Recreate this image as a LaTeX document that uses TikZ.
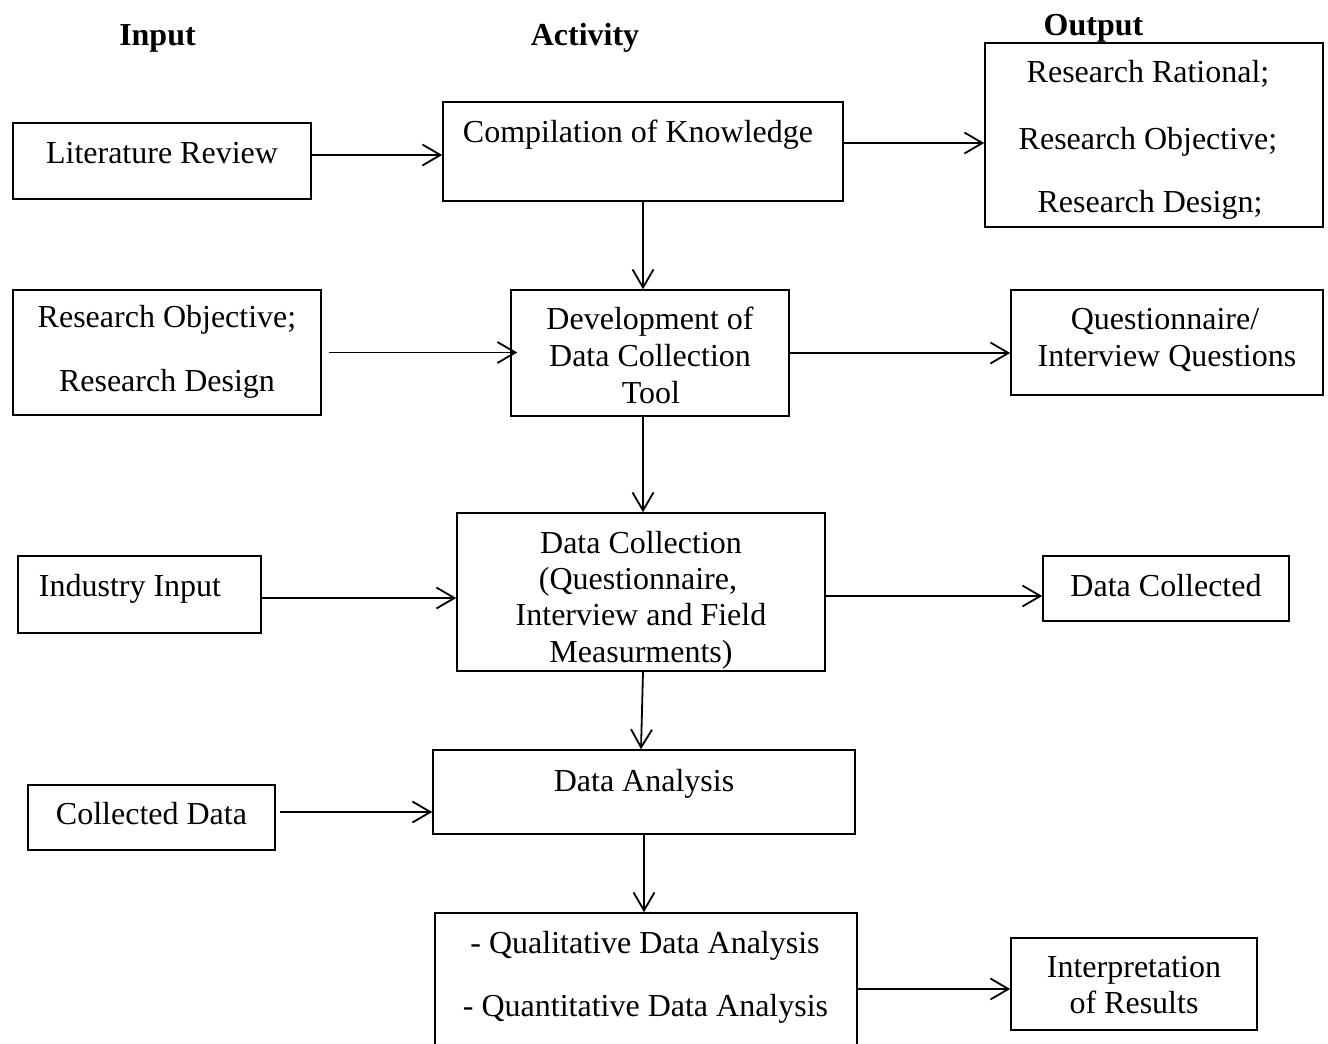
\documentclass[tikz,border=0pt]{standalone}
\usepackage{fontspec}
\setmainfont{Liberation Serif}
\usetikzlibrary{arrows.meta}
\begin{document}
\begin{tikzpicture}[x=0.5pt,y=-0.5pt,
  box/.style={draw, line width=0.8pt, inner sep=0pt},
  arr/.style={line width=0.9pt, -{Straight Barb[length=9pt,width=10.5pt,line width=0.9pt]}},
  txt/.style={anchor=base, inner sep=0pt, font=\fontsize{16}{19}\selectfont},
  head/.style={anchor=base, inner sep=0pt, font=\fontsize{16}{19}\selectfont\bfseries}]
\fill[white] (0,0) rectangle (1328,1044);
\useasboundingbox (0,0) rectangle (1328,1044);

% headings
\node[head] (hin)  at (157.5,46) {Input};
\node[head] (hact) at (585,46) {Activity};
\node[head] (hout) at (1093.5,35) {Output};

% boxes
\node[box, minimum width=149pt, minimum height=38pt]   (lr)   at (162,161) {};
\node[box, minimum width=200pt, minimum height=49.5pt] (ck)   at (643,151.5) {};
\node[box, minimum width=169pt, minimum height=92pt]   (out)  at (1154,135) {};
\node[box, minimum width=154pt, minimum height=62.5pt] (ro)   at (167,352.5) {};
\node[box, minimum width=139pt, minimum height=63pt]   (dev)  at (650,353) {};
\node[box, minimum width=156pt, minimum height=52.5pt] (q)    at (1167,342.5) {};
\node[box, minimum width=121.5pt, minimum height=38.5pt] (ii) at (139.5,594.5) {};
\node[box, minimum width=184pt, minimum height=79pt]   (dc)   at (641,592) {};
\node[box, minimum width=123pt, minimum height=32.5pt] (dcol) at (1166,588.5) {};
\node[box, minimum width=211pt, minimum height=42pt]   (da)   at (644,792) {};
\node[box, minimum width=123.5pt, minimum height=32.5pt] (cd) at (151.5,817.5) {};
\node[box, minimum width=211pt, minimum height=73.5pt] (qa)   at (646,986.5) {};
\node[box, minimum width=123pt, minimum height=46pt]   (ir)   at (1134,984) {};

% texts
\node[txt] (tlr)  at (162,163) {Literature Review};
\node[txt] (tck)  at (638,142) {Compilation of Knowledge};
\node[txt] (to1)  at (1148,83)  {Research Rational;};
\node[txt] (to2)  at (1148,149) {Research Objective;};
\node[txt] (to3)  at (1150,212) {Research Design;};
\node[txt] (tro1) at (167,327) {Research Objective;};
\node[txt] (tro2) at (167,391) {Research Design};
\node[txt] (tdv1) at (650,329) {Development of};
\node[txt] (tdv2) at (650,366) {Data Collection};
\node[txt] (tdv3) at (651,403) {Tool};
\node[txt] (tq1)  at (1165,329) {Questionnaire/};
\node[txt] (tq2)  at (1167,366) {Interview Questions};
\node[txt] (tii)  at (130,596) {Industry Input};
\node[txt] (tdc1) at (641,553) {Data Collection};
\node[txt] (tdc2) at (638,589) {(Questionnaire,};
\node[txt] (tdc3) at (641,625) {Interview and Field};
\node[txt] (tdc4) at (641,662) {Measurments)};
\node[txt] (tdcl) at (1166,596) {Data Collected};
\node[txt] (tda)  at (644,791) {Data Analysis};
\node[txt] (tcd)  at (151.5,824) {Collected Data};
\node[txt] (tqa1) at (645,953) {- Qualitative Data Analysis};
\node[txt] (tqa2) at (645.5,1016) {- Quantitative Data Analysis};
\node[txt] (tir1) at (1134,977) {Interpretation};
\node[txt] (tir2) at (1134,1013) {of Results};

% connectors
\draw[arr] ([yshift=3pt]lr.east) -- ([yshift=3pt]lr.east -| ck.west);
\draw[arr] ([yshift=4.25pt]ck.east) -- ([yshift=4.25pt]ck.east -| out.west);
\draw[arr] (ck.south) -- (ck.south |- dev.north);
\draw[arr] ([xshift=3.5pt]ro.east) -- ([xshift=3.5pt]ro.east -| dev.west);
\draw[arr] (dev.east) -- (dev.east -| q.west);
\draw[arr] ([xshift=-3.5pt]dev.south) -- ([xshift=-3.5pt]dev.south |- dc.north);
\draw[arr] ([yshift=-1.75pt]ii.east) -- ([yshift=-1.75pt]ii.east -| dc.west);
\draw[arr] ([yshift=-2pt]dc.east) -- ([yshift=-2pt]dc.east -| dcol.west);
\draw[arr] ([xshift=1pt]dc.south) -- ([xshift=0pt]dc.south |- da.north);
\draw[arr] ([xshift=2pt,yshift=2.75pt]cd.east) -- ([yshift=2.75pt]cd.east -| da.west);
\draw[arr] (da.south) -- (da.south |- qa.north);
\draw[arr] ([yshift=-1.25pt]qa.east) -- ([yshift=-1.25pt]qa.east -| ir.west);
\end{tikzpicture}
\end{document}
